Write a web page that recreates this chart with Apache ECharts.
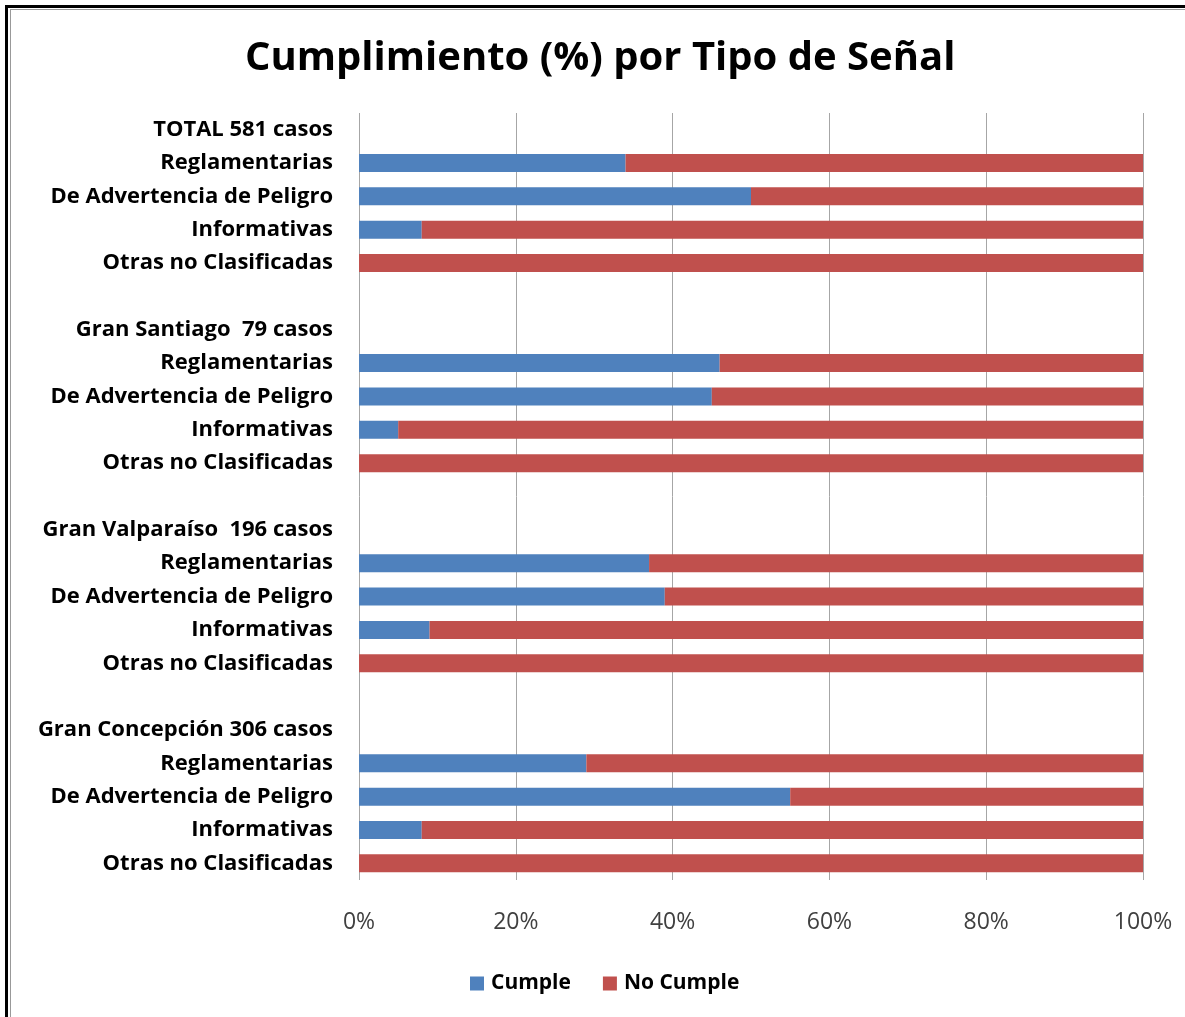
<!DOCTYPE html>
<html>
<head>
<meta charset="utf-8">
<script src="https://cdn.jsdelivr.net/npm/echarts@6/dist/echarts.min.js"></script>
<style>
html,body{margin:0;padding:0;background:#fff;}
#chart{width:1185px;height:1017px;}
</style>
</head>
<body>
<div id="chart"></div>
<script>
var categories = [
  'TOTAL 581 casos','Reglamentarias','De Advertencia de Peligro','Informativas','Otras no Clasificadas',' ',
  'Gran Santiago  79 casos','Reglamentarias','De Advertencia de Peligro','Informativas','Otras no Clasificadas','  ',
  'Gran Valparaíso  196 casos','Reglamentarias','De Advertencia de Peligro','Informativas','Otras no Clasificadas','   ',
  'Gran Concepción 306 casos','Reglamentarias','De Advertencia de Peligro','Informativas','Otras no Clasificadas'
];
var cumple = [null,34,50,8,0,null, null,46,45,5,0,null, null,37,39,9,0,null, null,29,55,8,0];
var noCumple = [null,66,50,92,100,null, null,54,55,95,100,null, null,63,61,91,100,null, null,71,45,92,100];
var xTicks = [0,20,40,60,80,100];

var chart = echarts.init(document.getElementById('chart'));
var font = '"Open Sans", Lato, sans-serif';
chart.setOption({
  animation:false,
  backgroundColor:'#fff',
  title:{
    text:'Cumplimiento (%) por Tipo de Señal',
    left:240, top:34,
    textStyle:{fontFamily:font, fontSize:40, fontWeight:'bold', color:'#000'}
  },
  legend:{
    data:['Cumple','No Cumple'],
    bottom:18, left:465,
    icon:'rect', itemWidth:14, itemHeight:14, itemGap:32, itemStyle:{borderWidth:0},
    textStyle:{fontFamily:font, fontSize:21, fontWeight:'bold', color:'#000', padding:[0,0,0,2]}
  },
  grid:{left:359, right:42, top:113, bottom:137, containLabel:false},
  xAxis:{
    type:'value', min:0, max:100, interval:20,
    axisLine:{show:false}, axisTick:{show:false},
    axisLabel:{formatter:function(v){return xTicks.indexOf(v)>=0? v+'%':'';}, margin:31,
      fontFamily:font, fontSize:23, color:'#404040'},
    splitLine:{show:true, lineStyle:{color:'#a6a6a6', width:1}}
  },
  yAxis:{
    type:'category', inverse:true, data:categories,
    axisLine:{show:false}, axisTick:{show:false},
    axisLabel:{margin:26, fontFamily:font, fontSize:22, fontWeight:'bold', color:'#000'}
  },
  series:[
    {name:'Cumple', type:'bar', stack:'s', data:cumple, barWidth:18,
      itemStyle:{color:'#4F81BD'}},
    {name:'No Cumple', type:'bar', stack:'s', data:noCumple, barWidth:18,
      itemStyle:{color:'#C0504D'}}
  ],
  graphic:[
    {type:'rect', shape:{x:5,y:5,width:1185,height:3}, style:{fill:'#000'}},
    {type:'rect', shape:{x:5,y:5,width:3,height:1017}, style:{fill:'#000'}},
    {type:'rect', shape:{x:10,y:9,width:1175,height:1}, style:{fill:'#999'}},
    {type:'rect', shape:{x:10,y:9,width:1,height:1008}, style:{fill:'#999'}}
  ]
});
</script>
</body>
</html>
